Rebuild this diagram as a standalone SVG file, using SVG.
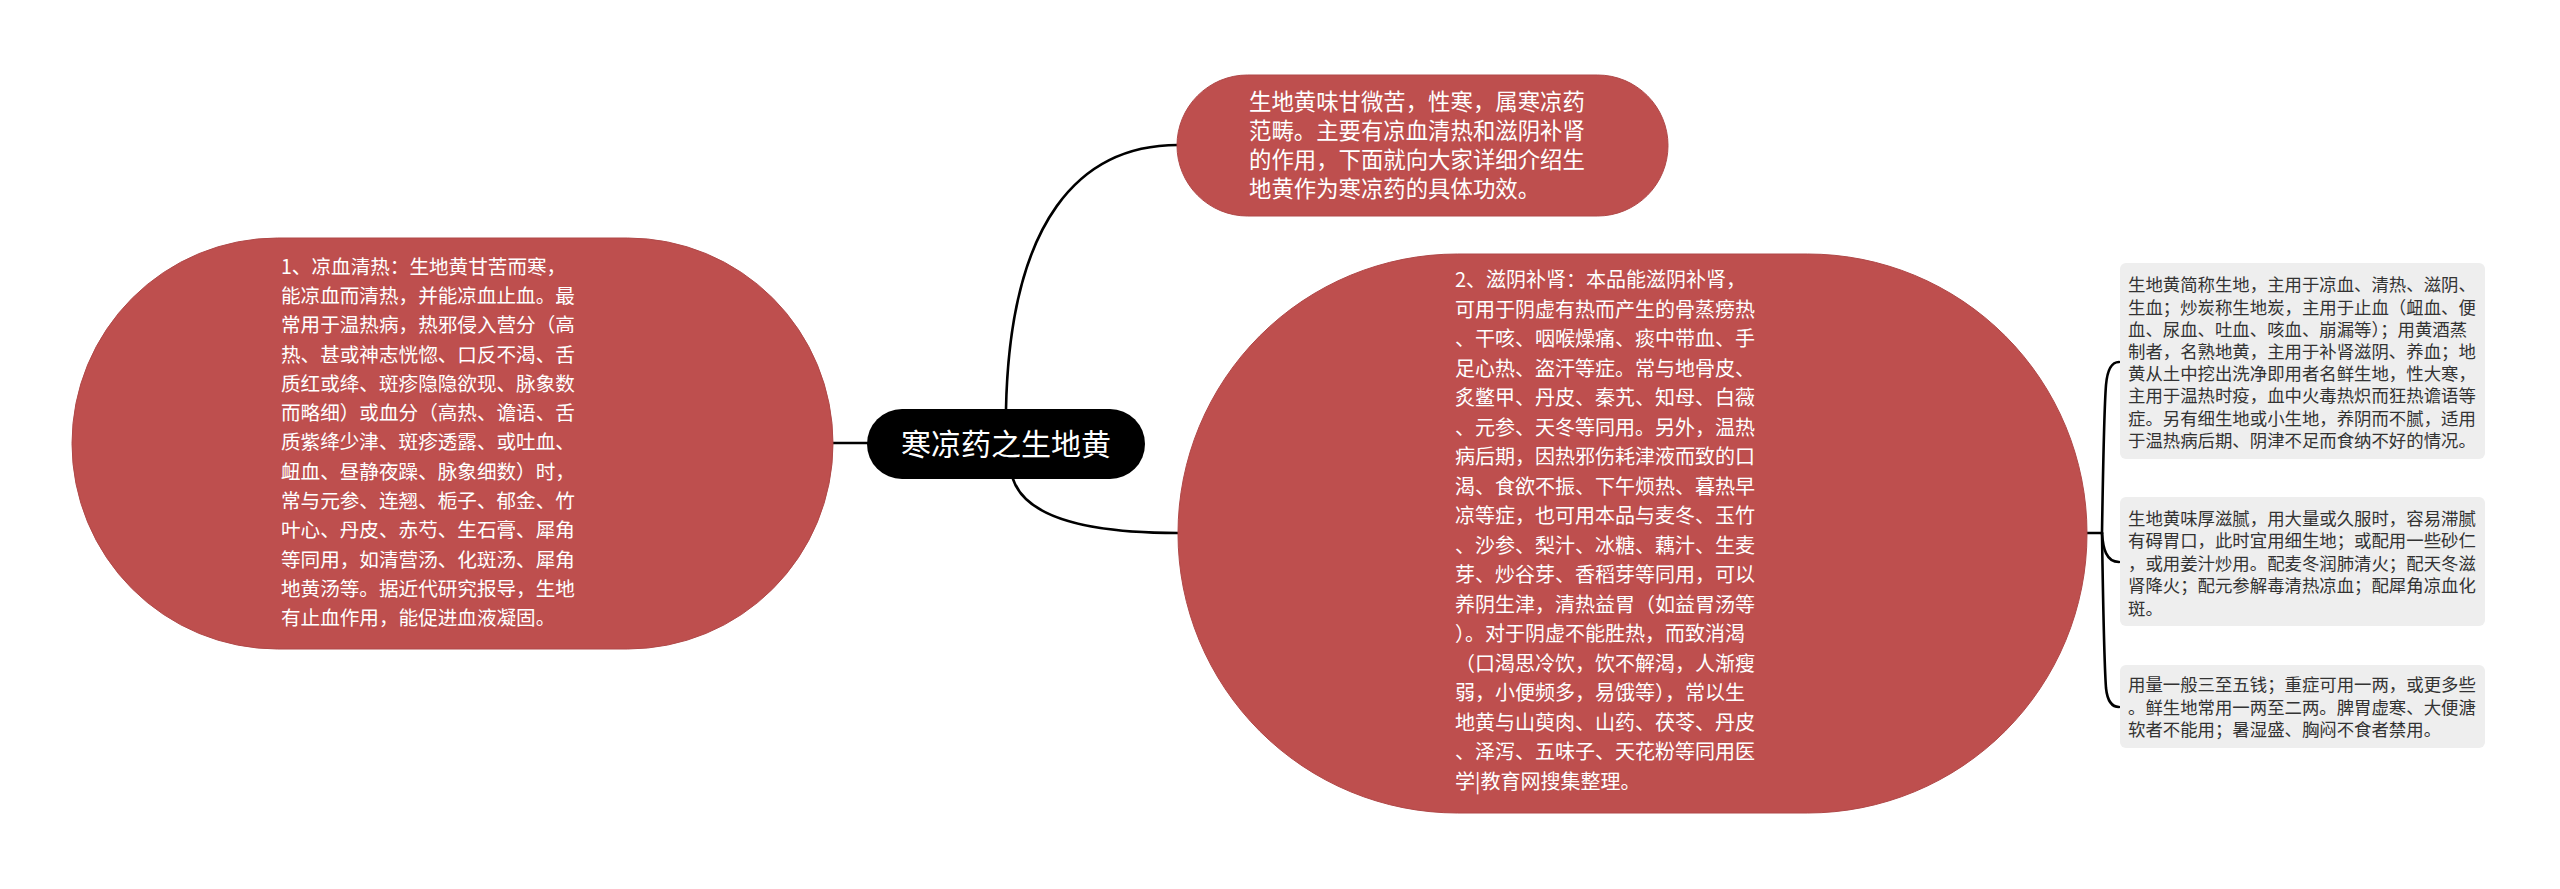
<svg xmlns="http://www.w3.org/2000/svg" width="2560" height="889" viewBox="0 0 2560 889">
<style>
.red{fill:#BE4F4E;stroke:#B04848;stroke-width:1}
.box{fill:#EEEEEE}
.t{font-family:"Noto Sans CJK SC","Noto Sans CJK JP",sans-serif;fill:#FFFFFF}
.tl{font-size:19.6px}
.tr{font-size:20px}
.tt{font-size:22.4px}
.tb{font-size:17.4px;fill:#333333}
.tc{font-size:30px;text-anchor:middle}
.c{fill:none;stroke:#000000;stroke-width:2.6;stroke-linecap:round}
</style>
<rect x="0" y="0" width="2560" height="889" fill="#FFFFFF"/>
<g id="connectors">
<path class="c" d="M833 443 L867 443"/>
<path class="c" d="M1006 409 C1010 220 1080 145 1178 145"/>
<path class="c" d="M1013 479 C1025 515 1080 533 1178 533"/>
<path class="c" d="M2087 533 L2102 533"/>
<path class="c" d="M2102 533 C2103 470 2104 410 2106 385 Q2108 362 2119 362"/>
<path class="c" d="M2102 533 C2103 548 2106 562 2119 562"/>
<path class="c" d="M2102 533 C2103 600 2104 660 2106 688 Q2108 707 2119 707"/>
</g>
<g id="root">
<rect x="867" y="409" width="278" height="70" rx="35" fill="#000000"/>
<text class="t tc" x="1006" y="455">寒凉药之生地黄</text>
</g>
<g id="node-left">
<rect class="red" x="72" y="238" width="761" height="411" rx="205.5"/>
<text class="t tl">
<tspan x="281" y="273.6">1、凉血清热：生地黄甘苦而寒，</tspan>
<tspan x="281" y="302.9">能凉血而清热，并能凉血止血。最</tspan>
<tspan x="281" y="332.2">常用于温热病，热邪侵入营分（高</tspan>
<tspan x="281" y="361.5">热、甚或神志恍惚、口反不渴、舌</tspan>
<tspan x="281" y="390.8">质红或绛、斑疹隐隐欲现、脉象数</tspan>
<tspan x="281" y="420.1">而略细）或血分（高热、谵语、舌</tspan>
<tspan x="281" y="449.4">质紫绛少津、斑疹透露、或吐血、</tspan>
<tspan x="281" y="478.7">衄血、昼静夜躁、脉象细数）时，</tspan>
<tspan x="281" y="508.0">常与元参、连翘、栀子、郁金、竹</tspan>
<tspan x="281" y="537.3">叶心、丹皮、赤芍、生石膏、犀角</tspan>
<tspan x="281" y="566.6">等同用，如清营汤、化斑汤、犀角</tspan>
<tspan x="281" y="595.9">地黄汤等。据近代研究报导，生地</tspan>
<tspan x="281" y="625.2">有止血作用，能促进血液凝固。</tspan>
</text>
</g>
<g id="node-top">
<rect class="red" x="1177" y="75" width="491" height="141" rx="70.5"/>
<text class="t tt">
<tspan x="1249" y="110.2">生地黄味甘微苦，性寒，属寒凉药</tspan>
<tspan x="1249" y="139.1">范畴。主要有凉血清热和滋阴补肾</tspan>
<tspan x="1249" y="168.0">的作用，下面就向大家详细介绍生</tspan>
<tspan x="1249" y="196.9">地黄作为寒凉药的具体功效。</tspan>
</text>
</g>
<g id="node-right">
<rect class="red" x="1178" y="254" width="909" height="559" rx="279.5"/>
<text class="t tr">
<tspan x="1455" y="287.4">2、滋阴补肾：本品能滋阴补肾，</tspan>
<tspan x="1455" y="316.9">可用于阴虚有热而产生的骨蒸痨热</tspan>
<tspan x="1455" y="346.4">、干咳、咽喉燥痛、痰中带血、手</tspan>
<tspan x="1455" y="375.9">足心热、盗汗等症。常与地骨皮、</tspan>
<tspan x="1455" y="405.4">炙鳖甲、丹皮、秦艽、知母、白薇</tspan>
<tspan x="1455" y="434.9">、元参、天冬等同用。另外，温热</tspan>
<tspan x="1455" y="464.4">病后期，因热邪伤耗津液而致的口</tspan>
<tspan x="1455" y="493.9">渴、食欲不振、下午烦热、暮热早</tspan>
<tspan x="1455" y="523.4">凉等症，也可用本品与麦冬、玉竹</tspan>
<tspan x="1455" y="552.9">、沙参、梨汁、冰糖、藕汁、生麦</tspan>
<tspan x="1455" y="582.4">芽、炒谷芽、香稻芽等同用，可以</tspan>
<tspan x="1455" y="611.9">养阴生津，清热益胃（如益胃汤等</tspan>
<tspan x="1455" y="641.4">）。对于阴虚不能胜热，而致消渴</tspan>
<tspan x="1455" y="670.9">（口渴思冷饮，饮不解渴，人渐瘦</tspan>
<tspan x="1455" y="700.4">弱，小便频多，易饿等），常以生</tspan>
<tspan x="1455" y="729.9">地黄与山萸肉、山药、茯苓、丹皮</tspan>
<tspan x="1455" y="759.4">、泽泻、五味子、天花粉等同用医</tspan>
<tspan x="1455" y="788.9">学|教育网搜集整理。</tspan>
</text>
</g>
<g id="box-1">
<rect class="box" x="2120" y="263" width="365" height="196" rx="6"/>
<text class="t tb">
<tspan x="2128" y="291.4">生地黄简称生地，主用于凉血、清热、滋阴、</tspan>
<tspan x="2128" y="313.6">生血；炒炭称生地炭，主用于止血（衄血、便</tspan>
<tspan x="2128" y="335.8">血、尿血、吐血、咳血、崩漏等）；用黄酒蒸</tspan>
<tspan x="2128" y="358.0">制者，名熟地黄，主用于补肾滋阴、养血；地</tspan>
<tspan x="2128" y="380.2">黄从土中挖出洗净即用者名鲜生地，性大寒，</tspan>
<tspan x="2128" y="402.4">主用于温热时疫，血中火毒热炽而狂热谵语等</tspan>
<tspan x="2128" y="424.6">症。另有细生地或小生地，养阴而不腻，适用</tspan>
<tspan x="2128" y="446.8">于温热病后期、阴津不足而食纳不好的情况。</tspan>
</text>
</g>
<g id="box-2">
<rect class="box" x="2120" y="497" width="365" height="129" rx="6"/>
<text class="t tb">
<tspan x="2128" y="524.7">生地黄味厚滋腻，用大量或久服时，容易滞腻</tspan>
<tspan x="2128" y="547.2">有碍胃口，此时宜用细生地；或配用一些砂仁</tspan>
<tspan x="2128" y="569.7">，或用姜汁炒用。配麦冬润肺清火；配天冬滋</tspan>
<tspan x="2128" y="592.2">肾降火；配元参解毒清热凉血；配犀角凉血化</tspan>
<tspan x="2128" y="614.7">斑。</tspan>
</text>
</g>
<g id="box-3">
<rect class="box" x="2120" y="665" width="365" height="83" rx="6"/>
<text class="t tb">
<tspan x="2128" y="691.4">用量一般三至五钱；重症可用一两，或更多些</tspan>
<tspan x="2128" y="713.9">。鲜生地常用一两至二两。脾胃虚寒、大便溏</tspan>
<tspan x="2128" y="736.4">软者不能用；暑湿盛、胸闷不食者禁用。</tspan>
</text>
</g>
</svg>
